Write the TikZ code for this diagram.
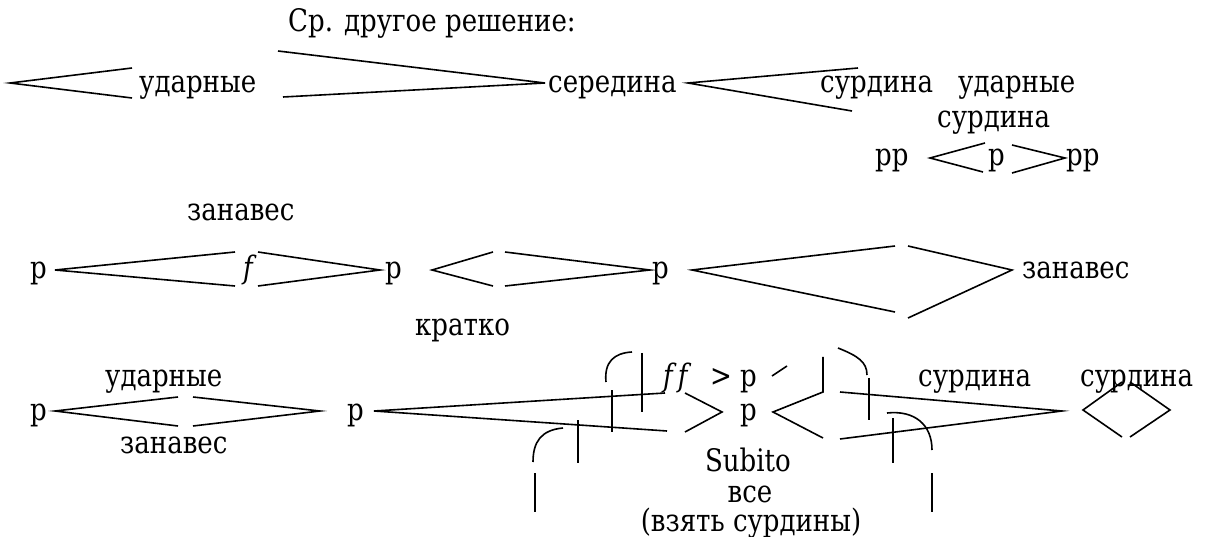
\documentclass[tikz,border=0pt]{standalone}
\usepackage{fontspec}
\setmainfont{DejaVu Serif}[FakeStretch=0.84]

\begin{document}
\begin{tikzpicture}[x=1pt, y=-1pt, hp/.style={line width=1.6pt}, every node/.style={inner sep=0pt, anchor=base west, font=\fontsize{31}{36}\selectfont}]
\useasboundingbox (0,0) rectangle (1208,537);
% Text (position, etc.)

\node (title)       at (288,32)   {Ср. другое решение:};
\node (ud1)         at (139,93)   {ударные};
\node (sered)       at (548,93)   {середина};
\node (surd1)       at (820,93)   {сурдина};
\node (ud2)         at (958,93)   {ударные};
\node (surd2)       at (937,128)  {сурдина};
\node (pp1)         at (875,166)  {pp};
\node (p1)          at (988,166)  {p};
\node (pp2)         at (1066,166) {pp};

\node (zan1)        at (187,221)  {занавес};
\node (p2)          at (30,279)   {p};
\node (f1)          at (243,279)  {\textit{f}};
\node (p3)          at (385,279)  {p};
\node (p4)          at (652,279)  {p};
\node (zan2)        at (1022,279) {занавес};
\node (kratko)      at (415,336)  {кратко};

\node (ud3)         at (105,386)  {ударные};
\node (p5)          at (30,420)   {p};
\node (zan3)        at (120,453)  {занавес};
\node (p6)          at (347,420)  {p};
\node (ff)          at (663,386)  {\textit{f\,f}};
\node (gt)          at (710,386)  {>};
\node (p7)          at (740,386)  {p};
\node (p8)          at (740,420)  {p};
\node (subito)      [anchor=base] at (748,471)  {Subito};
\node (vse)         [anchor=base] at (750,502)  {все};
\node (vzyat)       [anchor=base] at (751,531)  {(взять сурдины)};
\node (surd3)       at (918,386)  {сурдина};
\node (surd4)       at (1080,386) {сурдина};

% Hairpins
\draw[hp] (132,68) -- (10,83) -- (132,98);
\draw[hp] (278,51) -- (545,83) -- (283,97);
\draw[hp] (858,68) -- (688,83) -- (852,111);
\draw[hp] (985,143) -- (930,158) -- (983,172);
\draw[hp] (1012,145) -- (1065,158) -- (1012,173);

\draw[hp] (235,252) -- (55,270) -- (235,286);
\draw[hp] (258,252) -- (380,270) -- (258,286);
\draw[hp] (493,252) -- (432,270) -- (493,286);
\draw[hp] (505,252) -- (650,270) -- (505,286);
\draw[hp] (895,246) -- (692,270) -- (895,312);
\draw[hp] (908,246) -- (1012,270) -- (908,318);

\draw[hp] (178,397) -- (55,411) -- (178,426);
\draw[hp] (193,397) -- (320,411) -- (193,426);
\draw[hp] (665,393) -- (374,411) -- (667,431);
\draw[hp] (685,393) -- (722,412) -- (685,432);
\draw[hp] (823,357) -- (823,392) -- (773,412) -- (823,438);
\draw[hp] (840,392) -- (1062,411) -- (840,439);
\draw[hp] (1122,382) -- (1083,410) -- (1122,437);
\draw[hp] (1130,382) -- (1170,410) -- (1130,437);

% Marks
\draw[hp] (606,382) .. controls (604,362) and (614,353) .. (632,352);
\draw[hp] (642,353) -- (642,412);
\draw[hp] (612,390) -- (612,432);
\draw[hp] (533,462) .. controls (533,442) and (541,430) .. (563,428);
\draw[hp] (578,420) -- (578,463);
\draw[hp] (535,473) -- (535,512);
\draw[hp] (772,376) -- (787,366);
\draw[hp] (838,348) .. controls (858,356) and (867,362) .. (867,375);
\draw[hp] (869,378) -- (869,420);
\draw[hp] (887,413) .. controls (915,410) and (932,425) .. (932,450);
\draw[hp] (893,418) -- (893,463);
\draw[hp] (932,473) -- (932,512);

\end{tikzpicture}
\end{document}
